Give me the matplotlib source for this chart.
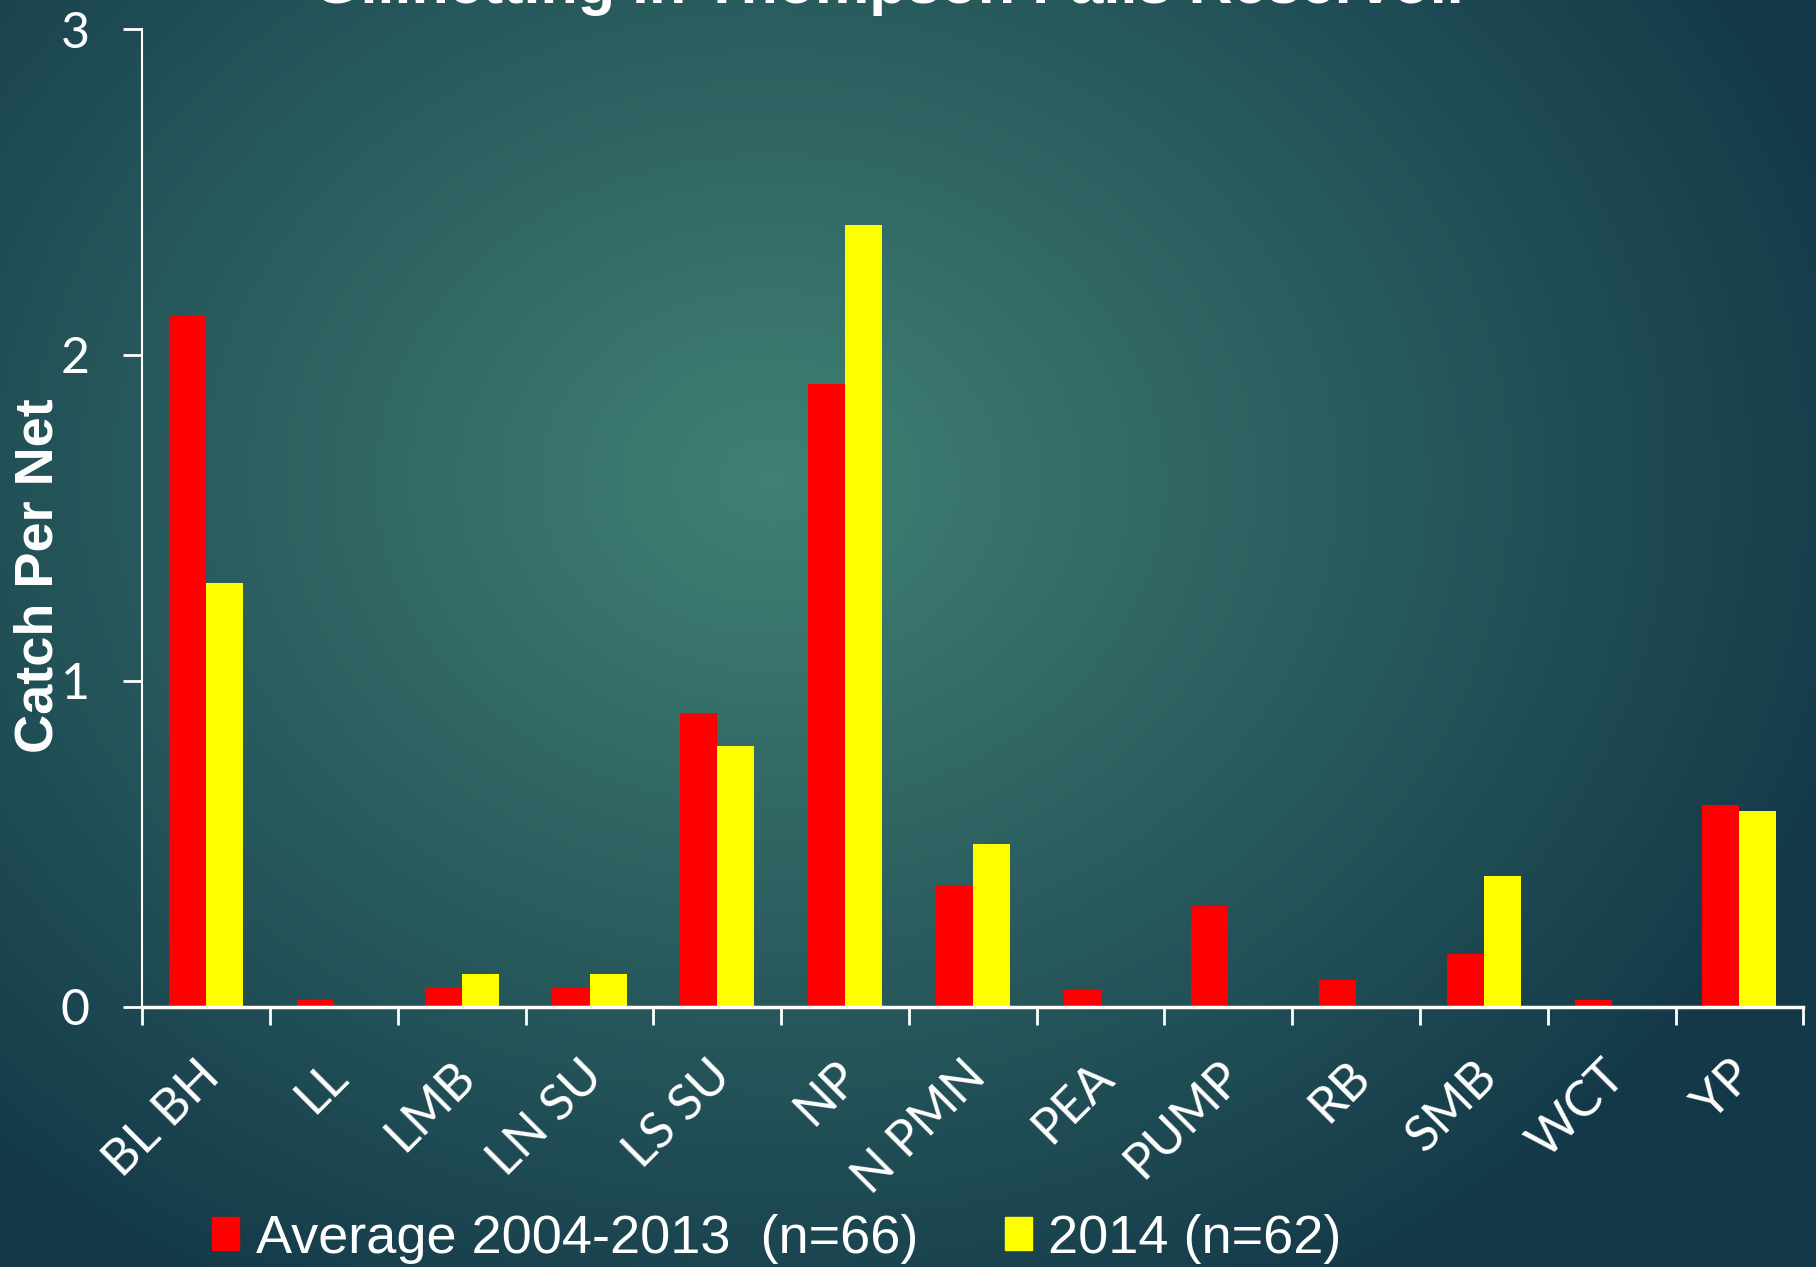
import numpy as np
import matplotlib
matplotlib.use("Agg")
import matplotlib.pyplot as plt
from matplotlib import font_manager
from matplotlib.patches import Patch
from matplotlib.ticker import FixedLocator

species = ["BL BH", "LL", "LMB", "LN SU", "LS SU", "NP", "N PMN",
           "PEA", "PUMP", "RB", "SMB", "WCT", "YP"]
avg_2004_2013 = [2.12, 0.02, 0.06, 0.06, 0.90, 1.91, 0.37,
                 0.05, 0.31, 0.08, 0.16, 0.02, 0.62]
catch_2014 = [1.30, 0.0, 0.10, 0.10, 0.80, 2.40, 0.50,
              0.0, 0.0, 0.0, 0.40, 0.0, 0.60]
yticks = [0, 1, 2, 3]
label_avg = "Average 2004-2013  (n=66)"
label_2014 = "2014 (n=62)"
title = "Gillnetting in Thompson Falls Reservoir"

# pick fonts that exist
names = {f.name for f in font_manager.fontManager.ttflist}
thin_font = "Lato" if "Lato" in names else "DejaVu Sans"
narrow_font = "Liberation Sans Narrow" if "Liberation Sans Narrow" in names else "Liberation Sans"

fig = plt.figure(figsize=(18.16, 12.67), dpi=100)

# radial background
bg = fig.add_axes([0, 0, 1, 1], zorder=-10)
yy, xx = np.mgrid[0:1267, 0:1816]
r = np.sqrt(((xx - 770) / 1150.0) ** 2 + ((yy - 480) / 950.0) ** 2)
r = np.clip(r, 0, 1)
c0 = np.array([0x40, 0x81, 0x74]) / 255.0
c1 = np.array([0x13, 0x38, 0x48]) / 255.0
img = c0[None, None, :] * (1 - r[..., None]) + c1[None, None, :] * r[..., None]
bg.imshow(img, aspect="auto", extent=[0, 1, 0, 1])
bg.axis("off")

ax = fig.add_axes([0.0784, 0.2056, 0.9146, 0.7714])
ax.patch.set_alpha(0)

x = np.arange(len(species))
w = 0.29
ax.bar(x - w / 2, avg_2004_2013, w, color="#ff0000", label=label_avg)
ax.bar(x + w / 2, catch_2014, w, color="#ffff00", label=label_2014)

ax.set_xlim(-0.5, len(species) - 0.5)
ax.set_ylim(0, 3)
ax.set_yticks(yticks)
ax.set_yticklabels([str(t) for t in yticks], fontsize=36, color="white",
                   family=thin_font)
ax.tick_params(axis="y", length=14, width=2, color="white", pad=24)

ax.set_xticks(x)
ax.xaxis.set_minor_locator(FixedLocator(np.arange(-0.5, len(species), 1.0)))
ax.tick_params(axis="x", which="major", length=0, pad=45)
ax.tick_params(axis="x", which="minor", length=13, width=2, color="white")
ax.set_xticklabels(species, rotation=45, ha="right", va="center",
                   rotation_mode="anchor", fontsize=36, color="white",
                   family=thin_font)
# nudge labels a little to the right, like the slide
import matplotlib.transforms as mtransforms
shift = mtransforms.ScaledTranslation(6 / 100, 0, fig.dpi_scale_trans)
for lbl in ax.get_xticklabels():
    lbl.set_transform(lbl.get_transform() + shift)

for s in ["top", "right"]:
    ax.spines[s].set_visible(False)
ax.spines["left"].set_color("white")
ax.spines["bottom"].set_color("white")
ax.spines["left"].set_linewidth(1.5)
ax.spines["bottom"].set_linewidth(2.5)

fig.text(0.021, 0.546, "Catch Per Net", rotation=90, ha="center", va="center",
         fontsize=39, fontweight="bold", color="white", family="Liberation Sans")

fig.text(0.491, 0.9975, title, ha="center", va="baseline", fontsize=44,
         fontweight="bold", color="white", family="Liberation Sans")

handles = [Patch(color="#ff0000"), Patch(color="#ffff00")]
fig.legend(handles, [label_avg, label_2014], loc="lower left",
           bbox_to_anchor=(0.09, -0.036), ncol=2, frameon=False,
           prop={"family": narrow_font, "size": 39},
           handlelength=0.5, handleheight=0.55, handletextpad=0.3,
           columnspacing=1.6, labelcolor="white")

fig.savefig("out.png", dpi=100)
